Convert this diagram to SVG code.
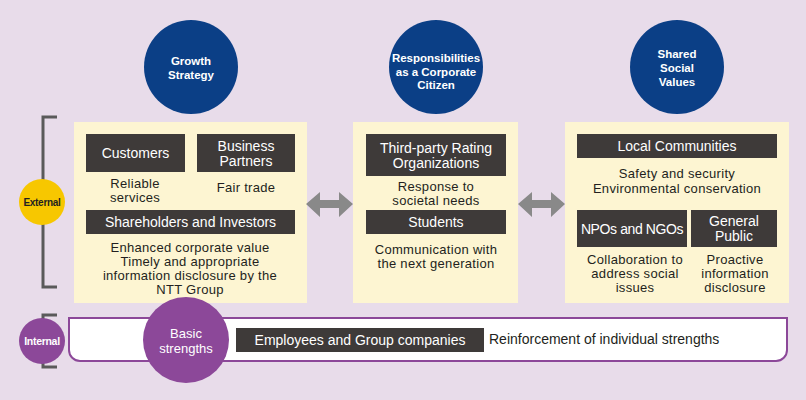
<svg xmlns="http://www.w3.org/2000/svg" width="806" height="400" viewBox="0 0 806 400">
<style>
text{font-family:"Liberation Sans",Arial,sans-serif;text-anchor:middle}
.panel{fill:#fdf5d2}
.dark{fill:#3e3a39}
.lbl{fill:#fff;font-size:14px}
.body{fill:#231f20;font-size:13px;letter-spacing:0.3px}
.navy{fill:#0b3f86}
.ct{fill:#fff;font-size:11.5px;font-weight:bold}
.brk{fill:none;stroke:#5a5a5a;stroke-width:3}
.arr{fill:#898989}
</style>
<rect width="806" height="400" fill="#e8dcea"/>

<g id="topic-growth">
<circle class="navy" cx="191" cy="67" r="47"/>
<text class="ct" x="191" y="65">Growth</text>
<text class="ct" x="191" y="79">Strategy</text>
</g>
<g id="topic-responsibilities">
<circle class="navy" cx="436" cy="67" r="47"/>
<text class="ct" x="436" y="62" font-size="11">Responsibilities</text>
<text class="ct" x="436" y="76">as a Corporate</text>
<text class="ct" x="436" y="89">Citizen</text>
</g>
<g id="topic-shared">
<circle class="navy" cx="677" cy="67" r="47"/>
<text class="ct" x="677" y="58">Shared</text>
<text class="ct" x="677" y="72">Social</text>
<text class="ct" x="677" y="86">Values</text>
</g>

<g id="external">
<path class="brk" d="M57 117H43V287H57"/>
<circle cx="42" cy="202" r="23" fill="#f7c700"/>
<text x="42" y="206" font-size="10" font-weight="bold" fill="#231f20" letter-spacing="-0.3">External</text>
</g>

<g id="panel-growth">
<rect class="panel" x="74" y="122" width="233" height="181"/>
<rect class="dark" x="86" y="134" width="99" height="38"/>
<text class="lbl" x="135.5" y="158">Customers</text>
<rect class="dark" x="197" y="134" width="98" height="38"/>
<text class="lbl" x="246" y="151">Business</text>
<text class="lbl" x="246" y="166">Partners</text>
<text class="body" x="135" y="188">Reliable</text>
<text class="body" x="135" y="202">services</text>
<text class="body" x="246" y="192">Fair trade</text>
<rect class="dark" x="86" y="210" width="209" height="24"/>
<text class="lbl" x="190.5" y="227">Shareholders and Investors</text>
<text class="body" x="190" y="252">Enhanced corporate value</text>
<text class="body" x="190" y="266">Timely and appropriate</text>
<text class="body" x="190" y="280">information disclosure by the</text>
<text class="body" x="190" y="294">NTT Group</text>
</g>

<g id="panel-responsibilities">
<rect class="panel" x="353" y="122" width="165" height="181"/>
<rect class="dark" x="366" y="134" width="140" height="42"/>
<text class="lbl" x="436" y="153">Third-party Rating</text>
<text class="lbl" x="436" y="168">Organizations</text>
<text class="body" x="436" y="191">Response to</text>
<text class="body" x="436" y="205">societal needs</text>
<rect class="dark" x="366" y="210" width="140" height="24"/>
<text class="lbl" x="436" y="227">Students</text>
<text class="body" x="436" y="254">Communication with</text>
<text class="body" x="436" y="268">the next generation</text>
</g>

<g id="panel-shared">
<rect class="panel" x="565" y="122" width="224" height="181"/>
<rect class="dark" x="577" y="134" width="200" height="24"/>
<text class="lbl" x="677" y="151">Local Communities</text>
<text class="body" x="677" y="178">Safety and security</text>
<text class="body" x="677" y="193">Environmental conservation</text>
<rect class="dark" x="577" y="210" width="110" height="37"/>
<text class="lbl" x="632" y="234" letter-spacing="-0.4">NPOs and NGOs</text>
<rect class="dark" x="691" y="210" width="86" height="37"/>
<text class="lbl" x="734" y="226">General</text>
<text class="lbl" x="734" y="241">Public</text>
<text class="body" x="635" y="264">Collaboration to</text>
<text class="body" x="635" y="278">address social</text>
<text class="body" x="635" y="292">issues</text>
<text class="body" x="735" y="264">Proactive</text>
<text class="body" x="735" y="278">information</text>
<text class="body" x="735" y="292">disclosure</text>
</g>

<g id="connectors">
<path class="arr" d="M306 204L320 192V200H339V192L353 204L339 217V208H320V217Z"/>
<path class="arr" d="M518 204L532 192V200H551V192L565 204L551 217V208H532V217Z"/>
</g>

<g id="internal">
<path class="brk" d="M57 315H43V367H57"/>
<circle cx="42" cy="341" r="23" fill="#8c4899"/>
<text x="42" y="345" font-size="10.5" font-weight="bold" fill="#fff" letter-spacing="-0.3">Internal</text>
</g>

<g id="internal-bar">
<path d="M69 318H787V350A11 11 0 0 1 776 361H80A11 11 0 0 1 69 350Z" fill="#fff" stroke="#8c4899" stroke-width="2"/>
<circle cx="186" cy="340" r="43" fill="#8c4899"/>
<text x="186" y="338" font-size="13" fill="#fff">Basic</text>
<text x="186" y="353" font-size="13" fill="#fff">strengths</text>
<rect class="dark" x="236" y="328" width="248" height="24"/>
<text class="lbl" x="360" y="345">Employees and Group companies</text>
<text class="body" x="489" y="344" style="text-anchor:start;font-size:14px;letter-spacing:0">Reinforcement of individual strengths</text>
</g>
</svg>
